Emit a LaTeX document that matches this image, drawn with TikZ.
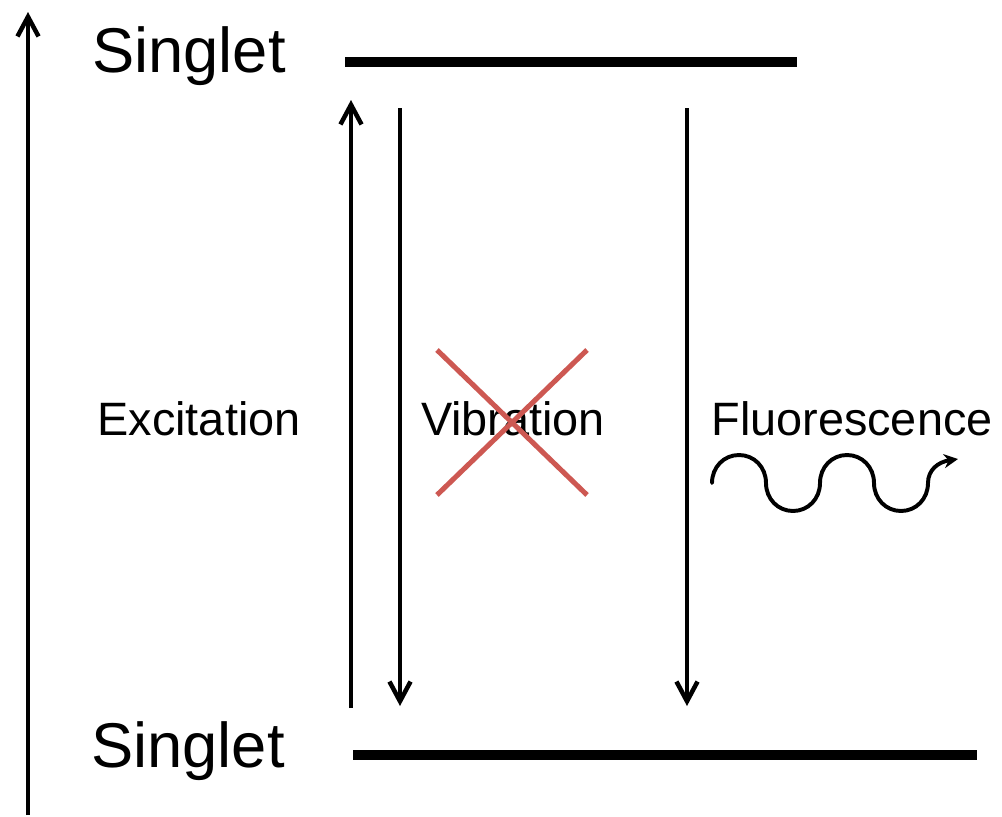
\documentclass[tikz,border=0pt]{standalone}
\usepackage{fontspec}
\setmainfont{Liberation Sans}
\usetikzlibrary{arrows.meta}

\begin{document}
\begin{tikzpicture}[
  x=0.025cm, y=-0.025cm,
  level/.style={line width=7.5pt},
  arr/.style={-{Straight Barb[length=14pt, width=15pt]}, line width=3.2pt},
  title/.style={font=\fontsize{45}{54}\selectfont, anchor=base},
  lab/.style={font=\fontsize{33.3}{40}\selectfont, anchor=base},
  cross/.style={line width=3.6pt, draw={rgb,255:red,205;green,88;blue,82}}
]
\useasboundingbox (0,0) rectangle (1002,817);

%% ---- ENERGY AXIS ----
\coordinate (ax0) at (28,815);
\coordinate (ax1) at (28,12);
\draw[arr] (ax0) -- (ax1);

%% ---- LEVELS ----
\node[title] (sup)   at (189,72)  {Singlet};
\node[title] (sdown) at (188,767) {Singlet};

\coordinate (up0) at (345,62);  \coordinate (up1) at (797,62);
\coordinate (dn0) at (353,755); \coordinate (dn1) at (977,755);
\draw[level] (up0) -- (up1);
\draw[level] (dn0) -- (dn1);

%% ---- TRANSITIONS ----
\coordinate (ex0) at (351,708); \coordinate (ex1) at (351,100);
\coordinate (vb0) at (400,108); \coordinate (vb1) at (400,706);
\coordinate (fl0) at (687,108); \coordinate (fl1) at (687,706);
\draw[arr] (ex0) -- (ex1);
\draw[arr] (vb0) -- (vb1);
\draw[arr] (fl0) -- (fl1);

\node[lab] (exc) at (199,435) {Excitation};
\node[lab] (vib) at (513,435) {Vibration};
\node[lab] (flu) at (852,435) {Fluorescence};

%% ---- FORBIDDEN: red cross ----
\coordinate (c1) at (437,350); \coordinate (c2) at (587,495);
\coordinate (c3) at (587,350); \coordinate (c4) at (437,495);
\draw[cross] (c1) -- (c2);
\draw[cross] (c3) -- (c4);

%% ---- PHOTON (half circles) ----
\coordinate (w0) at (712,483);
\draw[line width=2.8pt, line cap=round, -{Stealth[length=10pt, width=10pt]}]
  (w0) .. controls (712,467) and (724,455) .. (739,455)
       .. controls (754,455) and (766,467) .. (766,483)
       .. controls (766,499) and (778,511) .. (793,511)
       .. controls (808,511) and (820,499) .. (820,483)
       .. controls (820,467) and (832,455) .. (847,455)
       .. controls (862,455) and (874,467) .. (874,483)
       .. controls (874,499) and (886,511) .. (901,511)
       .. controls (916,511) and (928,499) .. (928,483)
       .. controls (928,470) and (938,462) .. (958,459);

\end{tikzpicture}
\end{document}
